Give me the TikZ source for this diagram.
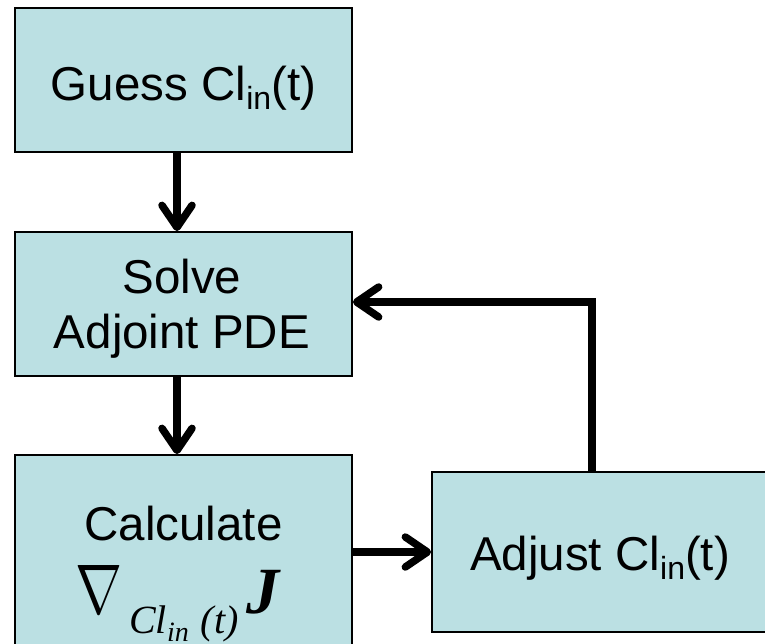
\documentclass[tikz,border=0pt]{standalone}
\usepackage{fontspec}
\usepackage{graphicx}
\setmainfont{Liberation Sans}
\newfontfamily\tnr{Liberation Serif}
\usetikzlibrary{arrows.meta}
\definecolor{boxfill}{HTML}{BBE0E3}
\newcommand\subin{\raisebox{-9pt}{\fontsize{32}{32}\selectfont in}}
\tikzset{
  flowbox/.style={draw=black, line width=1.8pt, fill=boxfill, inner sep=0pt},
  lbl/.style={inner sep=0pt, anchor=base, font=\fontsize{47.5}{55}\selectfont},
  conn/.style={line width=7.5pt, line join=miter,
    -{Straight Barb[length=22pt, width=30pt, line cap=round, line join=round]}}
}
\begin{document}
\begin{tikzpicture}[x=1pt, y=-1pt]
\useasboundingbox (0,0) rectangle (765,643);
\begin{scope}
\clip (0,0) rectangle (765,643);
\node[flowbox, minimum width=337pt, minimum height=144pt] (b1) at (183.5,80) {};
\node[flowbox, minimum width=337pt, minimum height=144pt] (b2) at (183.5,304) {};
\node[flowbox, minimum width=337pt, minimum height=200pt] (b3) at (183.5,555) {};
\node[flowbox, minimum width=334pt, minimum height=160pt] (b4) at (599,552) {};
\end{scope}

\node[lbl] (t1) at (183.5,100) {Guess Cl\subin(t)};
\node[lbl] (t2a) at (182,293) {Solve};
\node[lbl] (t2b) at (182,348) {Adjoint PDE};
\node[lbl] (t3a) at (183.5,540) {Calculate};
\node[inner sep=0pt, anchor=base west] (t3b) at (75,613)
  {\resizebox{47pt}{48pt}{$\nabla$}\hspace{7pt}\raisebox{-20pt}{\fontsize{40}{40}\selectfont\tnr\itshape Cl\raisebox{-8pt}{\fontsize{28}{28}\selectfont in}\hspace{12pt}(t)}\hspace{8pt}{\fontsize{66}{66}\selectfont\tnr\bfseries\itshape J}};
\node[lbl] (t4) at (600,570) {Adjust Cl\subin(t)};

\coordinate (ax) at (177,0);
\coordinate (fbc) at (592,302);
\coordinate (hy) at (0,552);

\draw[conn] (b1.south -| ax) -- (b2.north -| ax);
\draw[conn] (b2.south -| ax) -- (b3.north -| ax);
\draw[conn] (b3.east |- hy) -- (b4.west |- hy);
\draw[conn] (b4.north -| fbc) -- (fbc) -- (b2.east |- fbc);
\end{tikzpicture}
\end{document}
